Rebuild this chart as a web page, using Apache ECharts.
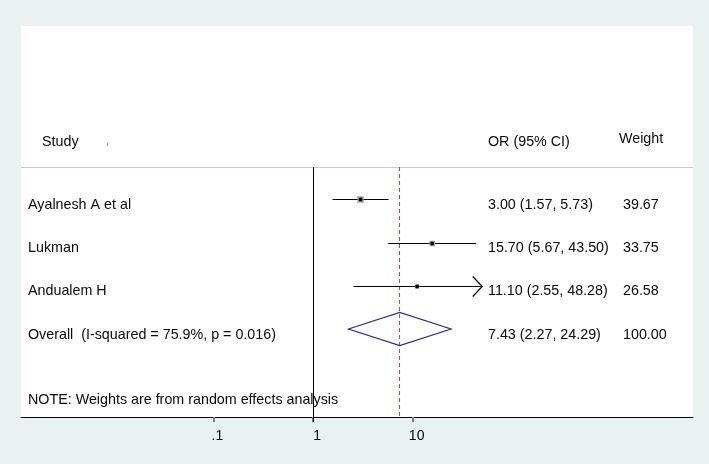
<!DOCTYPE html>
<html><head><meta charset="utf-8">
<script src="https://cdn.jsdelivr.net/npm/echarts@6/dist/echarts.min.js"></script>
<style>html,body{margin:0;padding:0;background:#e9f1f1;} #c{width:709px;height:464px;}</style>
</head><body><div id="c"></div>
<script>
const studies = ['Ayalnesh A et al', 'Lukman', 'Andualem H'];
const oddsRatios = [3.00, 15.70, 11.10];
const ciLower = [1.57, 5.67, 2.55];
const ciUpper = [5.73, 43.50, 48.28];
const weights = [39.67, 33.75, 26.58];
const ciText = ['3.00 (1.57, 5.73)', '15.70 (5.67, 43.50)', '11.10 (2.55, 48.28)'];
const arrowRight = [false, false, true];
const pooledLabel = 'Overall  (I-squared = 75.9%, p = 0.016)';
const pooledOR = 7.43, pooledLower = 2.27, pooledUpper = 24.29;
const pooledText = '7.43 (2.27, 24.29)';
const pooledWeight = '100.00';
const tickValues = [0.1, 1, 10];
const tickLabels = ['.1', '1', '10'];
const headers = ['Study', 'OR (95% CI)', 'Weight'];
const note = 'NOTE: Weights are from random effects analysis';

const FONT = '"Liberation Sans", Arial, sans-serif';
const FS = 14.3;
const lg = Math.log10;
const COL_STUDY = 28, COL_OR = 488, COL_W = 623, TEXT_DY = 5;
const Y_MIN = -3.0465, Y_MAX = 6.0465, Y_TOPLINE = 0.233;
const crisp = v => Math.round(v - 0.5) + 0.5;

const chart = echarts.init(document.getElementById('c'), null, {renderer: 'canvas'});

function txt(x, y, s, size) {
  return {type: 'text', x: x, y: y, style: {text: s, fill: '#0a0a0a', fontSize: size || FS, fontFamily: FONT, verticalAlign: 'middle', align: 'left'}};
}

const studyData = studies.map((s, i) => [lg(ciLower[i]), lg(ciUpper[i]), lg(oddsRatios[i]), i + 1, weights[i], arrowRight[i] ? 1 : 0]);

chart.setOption({
  animation: false,
  backgroundColor: '#e9f1f1',
  grid: {left: 21, right: 16, top: 26, bottom: 47, show: true, backgroundColor: '#ffffff', borderWidth: 0},
  xAxis: {
    type: 'value', min: -2.932, max: 3.815,
    axisLine: {show: true, onZero: false, lineStyle: {color: '#000', width: 1}},
    axisTick: {show: true, customValues: tickValues.map(lg), length: 5, lineStyle: {color: '#7a7a7a', width: 2}},
    axisLabel: {show: true, customValues: tickValues.map(lg), margin: 12, fontSize: 14, fontFamily: FONT, color: '#000', padding: [0, 0, 0, 8],
      formatter: v => { const i = tickValues.findIndex(t => Math.abs(lg(t) - v) < 1e-9); return i >= 0 ? tickLabels[i] : ''; }},
    splitLine: {show: false}
  },
  yAxis: {type: 'value', min: Y_MIN, max: Y_MAX, inverse: true, show: false, splitLine: {show: false}},
  graphic: [
    {type: 'line', shape: {x1: 21, y1: 167.5, x2: 693, y2: 167.5}, style: {stroke: '#c6c6ec', lineWidth: 1}},
    txt(42, 142, headers[0]),
    txt(COL_OR, 142, headers[1]),
    txt(619, 139, headers[2]),
    {type: 'line', shape: {x1: 107.5, y1: 143, x2: 107.5, y2: 146}, style: {stroke: '#999', lineWidth: 1}}
  ],
  series: [
    {
      type: 'custom', name: 'ref', clip: false,
      data: [[lg(1), 0], [lg(pooledOR), 1]],
      encode: {x: 0},
      renderItem: function (params, api) {
        const top = api.coord([api.value(0), Y_TOPLINE]);
        const bot = api.coord([api.value(0), Y_MAX]);
        const dashed = api.value(1) === 1;
        const x = crisp(top[0]);
        return {type: 'line', shape: {x1: x, y1: top[1], x2: x, y2: bot[1] + (dashed ? 0 : 5)},
          style: dashed ? {stroke: '#c24a5c', lineWidth: 1.1, lineDash: [4, 3]} : {stroke: '#000', lineWidth: 1}};
      }
    },
    {
      type: 'custom', name: 'studies', clip: false,
      data: studyData,
      encode: {x: [0, 1, 2], y: 3},
      renderItem: function (params, api) {
        const i = params.dataIndex;
        const row = api.value(3);
        const lo = api.coord([api.value(0), row]);
        const hi = api.coord([api.value(1), row]);
        const pt = api.coord([api.value(2), row]);
        const y = crisp(pt[1]);
        const s = api.value(4) * 0.16;
        const ch = [
          {type: 'line', shape: {x1: lo[0], y1: y, x2: hi[0], y2: y}, style: {stroke: '#000', lineWidth: 1.2}},
          {type: 'rect', shape: {x: pt[0] - s / 2, y: y - s / 2, width: s, height: s}, style: {fill: '#9a9a9a'}},
          {type: 'circle', shape: {cx: pt[0], cy: y, r: 1.9}, style: {fill: '#000'}},
          txt(COL_STUDY, pt[1] + TEXT_DY, studies[i]),
          txt(COL_OR, pt[1] + TEXT_DY, ciText[i]),
          txt(COL_W, pt[1] + TEXT_DY, weights[i].toFixed(2))
        ];
        if (api.value(5) === 1) {
          ch.push({type: 'polyline', shape: {points: [[hi[0] - 8, y - 10], [hi[0] + 1.5, y], [hi[0] - 8, y + 10]]}, style: {stroke: '#000', lineWidth: 1.2, fill: null}});
        }
        return {type: 'group', children: ch};
      }
    },
    {
      type: 'custom', name: 'pooled', clip: false,
      data: [[lg(pooledLower), lg(pooledUpper), lg(pooledOR), studies.length + 1]],
      encode: {x: [0, 1, 2], y: 3},
      renderItem: function (params, api) {
        const row = api.value(3);
        const lo = api.coord([api.value(0), row]);
        const hi = api.coord([api.value(1), row]);
        const pt = api.coord([api.value(2), row]);
        const h = 16.5;
        return {type: 'group', children: [
          {type: 'polygon', shape: {points: [[lo[0], pt[1]], [pt[0], pt[1] - h], [hi[0], pt[1]], [pt[0], pt[1] + h]]}, style: {stroke: '#2b2b9a', lineWidth: 1.2, fill: null}},
          txt(COL_STUDY, pt[1] + 6, pooledLabel),
          txt(COL_OR, pt[1] + 6, pooledText),
          txt(COL_W, pt[1] + 6, pooledWeight)
        ]};
      }
    },
    {
      type: 'custom', name: 'note', clip: false,
      data: [[0, 5.651]],
      encode: {x: 0, y: 1},
      renderItem: function (params, api) {
        const p = api.coord([api.value(0), api.value(1)]);
        return txt(COL_STUDY, p[1], note);
      }
    }
  ]
});
</script></body></html>
